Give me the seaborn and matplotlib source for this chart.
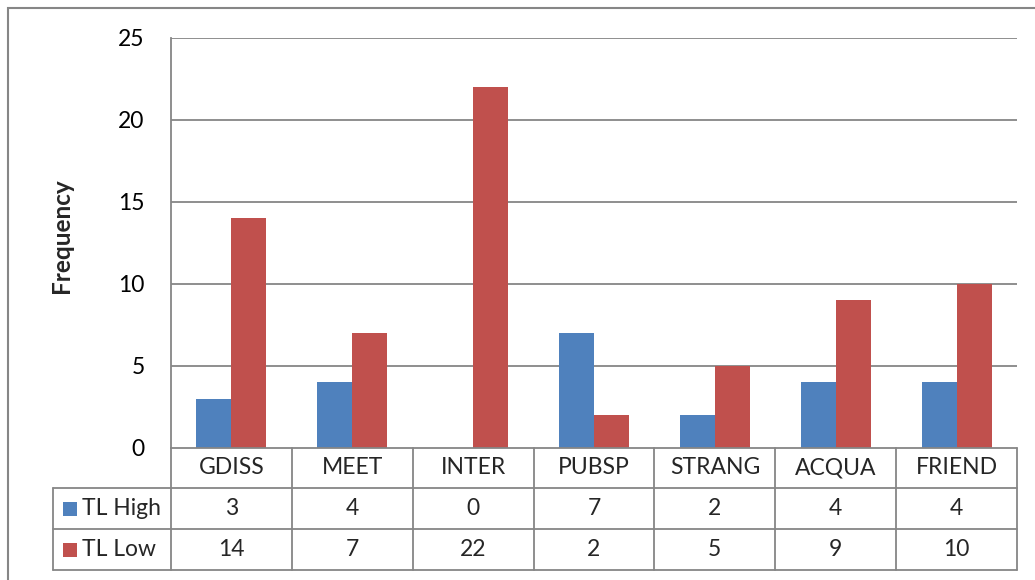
import matplotlib
matplotlib.use("Agg")
import matplotlib.pyplot as plt
import seaborn as sns
import pandas as pd
from matplotlib.lines import Line2D
from matplotlib.patches import Rectangle

# Data
categories = ["GDISS", "MEET", "INTER", "PUBSP", "STRANG", "ACQUA", "FRIEND"]
tl_high = [3, 4, 0, 7, 2, 4, 4]
tl_low = [14, 7, 22, 2, 5, 9, 10]
series_names = ["TL High", "TL Low"]
y_ticks = [0, 5, 10, 15, 20, 25]

BLUE = "#4F81BD"
RED = "#C0504D"
GRID = "#868686"
FS = 16.5

sns.set_theme(style="white")
plt.rcParams["font.family"] = ["Lato", "DejaVu Sans"]

W, H = 1035, 580
fig = plt.figure(figsize=(W / 100, H / 100), dpi=100)


def fx(px):
    return px / W


def fy(py):
    return 1 - py / H


# plot area bounds in pixels
L, R, T, B = 171, 1017, 38, 448
ax = fig.add_axes([fx(L), fy(B), fx(R) - fx(L), fy(T) - fy(B)])

df = pd.DataFrame({
    "category": categories * 2,
    "series": [series_names[0]] * len(categories) + [series_names[1]] * len(categories),
    "value": tl_high + tl_low,
})
sns.barplot(data=df, x="category", y="value", hue="series",
            palette=[BLUE, RED], width=0.58, saturation=1,
            order=categories, hue_order=series_names, ax=ax, linewidth=0)
ax.legend_.remove()

ax.set_xlim(-0.5, len(categories) - 0.5)
ax.set_ylim(0, 25)
ax.set_yticks(y_ticks)
ax.set_yticklabels([str(t) for t in y_ticks], fontsize=FS)
ax.tick_params(axis="y", length=0, pad=19, colors="black")
ax.set_xticks([])
ax.set_xlabel("")
ax.set_ylabel("Frequency", fontsize=17.5, fontweight="bold")
ax.yaxis.set_label_coords((73 - L) / (R - L), 0.518)
for t in y_ticks[1:]:
    ax.axhline(t, color=GRID, lw=1.3, zorder=0)
for s in ["top", "right", "bottom"]:
    ax.spines[s].set_visible(False)
ax.spines["left"].set_color(GRID)
ax.spines["left"].set_linewidth(1.3)

# outer chart border
fig.add_artist(Rectangle((fx(8), fy(600)), fx(1100) - fx(8), fy(8) - fy(600),
                         transform=fig.transFigure, fill=False,
                         edgecolor=GRID, lw=1.5))

# data table below the plot
row_edges = [448, 488, 529, 570]
label_left = 53
col_w = (R - L) / len(categories)
col_edges = [L + i * col_w for i in range(len(categories) + 1)]


def hline(x0, x1, y):
    fig.add_artist(Line2D([fx(x0), fx(x1)], [fy(y), fy(y)],
                          transform=fig.transFigure, color=GRID, lw=1.3))


def vline(x, y0, y1):
    fig.add_artist(Line2D([fx(x), fx(x)], [fy(y0), fy(y1)],
                          transform=fig.transFigure, color=GRID, lw=1.3))


hline(L, R, row_edges[0])
for y in row_edges[1:]:
    hline(label_left, R, y)
for x in col_edges:
    vline(x, row_edges[0], row_edges[-1])
vline(label_left, row_edges[1], row_edges[-1])

for i, cat in enumerate(categories):
    cx = (col_edges[i] + col_edges[i + 1]) / 2
    fig.text(fx(cx), fy((row_edges[0] + row_edges[1]) / 2), cat,
             ha="center", va="center", fontsize=FS)
    for r, vals in enumerate([tl_high, tl_low]):
        fig.text(fx(cx), fy((row_edges[r + 1] + row_edges[r + 2]) / 2),
                 str(vals[i]), ha="center", va="center", fontsize=FS)

for r, (name, col) in enumerate(zip(series_names, [BLUE, RED])):
    cy = (row_edges[r + 1] + row_edges[r + 2]) / 2
    fig.add_artist(Rectangle((fx(63), fy(cy + 7)), fx(77) - fx(63), fy(cy - 7) - fy(cy + 7),
                             transform=fig.transFigure, facecolor=col, edgecolor="none"))
    fig.text(fx(82), fy(cy), name, ha="left", va="center", fontsize=FS)

fig.savefig("out.png", dpi=100, facecolor="white")
